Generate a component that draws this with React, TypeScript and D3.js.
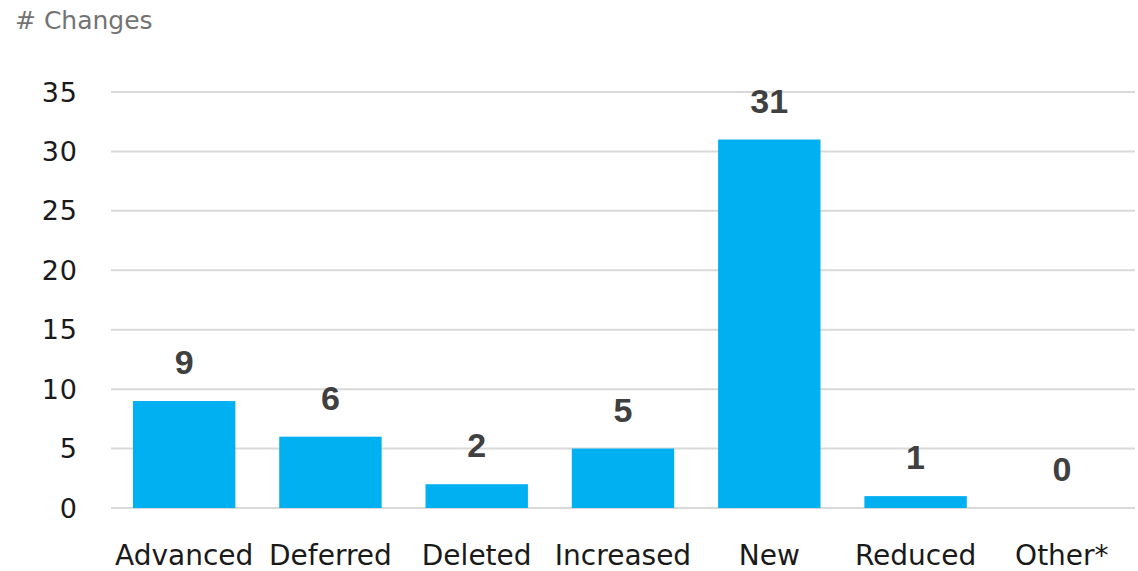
import React from "react";
import * as d3 from "d3";

const categories = ["Advanced", "Deferred", "Deleted", "Increased", "New", "Reduced", "Other*"];
const values = [9, 6, 2, 5, 31, 1, 0];
const yTicks = [0, 5, 10, 15, 20, 25, 30, 35];
const title = "# Changes";

const W = 1138;
const H = 571;

export default function App() {
  const x = d3
    .scaleBand<string>()
    .domain(categories)
    .range([111, 1135])
    .paddingInner(0.3)
    .paddingOuter(0.15);
  const y = d3.scaleLinear().domain([0, 35]).range([508, 92]);

  return (
    <svg
      width={W}
      height={H}
      style={{ position: "absolute", left: 0, top: 0, background: "#fff" }}
    >
      <text x={15} y={29} fontFamily="DejaVu Sans" fontSize={25} fill="#737373">
        {title}
      </text>
      {yTicks.map((t) => (
        <g key={t}>
          <line x1={111} x2={1135} y1={y(t)} y2={y(t)} stroke="#d9d9d9" strokeWidth={2} />
          <text
            x={78}
            y={y(t)}
            textAnchor="end"
            dominantBaseline="central"
            fontFamily="DejaVu Sans"
            fontSize={27}
            letterSpacing={1}
            fill="#1a1a1a"
          >
            {t}
          </text>
        </g>
      ))}
      {categories.map((c, i) => {
        const v = values[i];
        const bx = x(c)!;
        return (
          <g key={c}>
            {v > 0 && (
              <rect x={bx} y={y(v)} width={x.bandwidth()} height={y(0) - y(v)} fill="#00B0F0" />
            )}
            <text
              x={bx + x.bandwidth() / 2}
              y={y(v) - 27}
              textAnchor="middle"
              fontFamily="Liberation Sans"
              fontWeight="bold"
              fontSize={34}
              fill="#404040"
            >
              {v}
            </text>
            <text
              x={bx + x.bandwidth() / 2}
              y={565}
              textAnchor="middle"
              fontFamily="DejaVu Sans"
              fontSize={28}
              fill="#1a1a1a"
            >
              {c}
            </text>
          </g>
        );
      })}
    </svg>
  );
}
